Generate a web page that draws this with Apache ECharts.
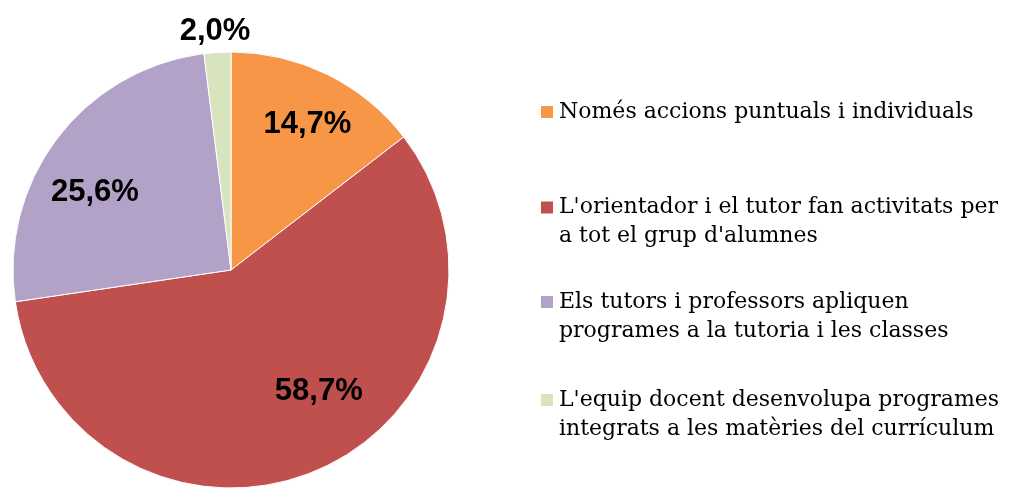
<!DOCTYPE html>
<html>
<head>
<meta charset="utf-8">
<script src="https://cdn.jsdelivr.net/npm/echarts@6/dist/echarts.min.js"></script>
<style>html,body{margin:0;padding:0;background:#fff}#c{width:1011px;height:488px}</style>
</head>
<body>
<div id="c"></div>
<script>
const categories = [
  "Només accions puntuals i individuals",
  "L'orientador i el tutor fan activitats per a tot el grup d'alumnes",
  "Els tutors i professors apliquen programes a la tutoria i les classes",
  "L'equip docent desenvolupa programes integrats a les matèries del currículum"
];
const legendLines = [
  ["Només accions puntuals i individuals"],
  ["L'orientador i el tutor fan activitats per", "a tot el grup d'alumnes"],
  ["Els tutors i professors apliquen", "programes a la tutoria i les classes"],
  ["L'equip docent desenvolupa programes", "integrats a les matèries del currículum"]
];
const values = [14.7, 58.7, 25.6, 2.0];
const colors = ["#F79646", "#C0504D", "#B3A2C7", "#D7E4BD"];

// label offsets from ECharts' default inside position (layout only)
const labelOffsets = [[27, -45], [44, 18], [-47, -10], [-9, -127]];
const iconCenters = [112, 207.5, 302, 400];
const LH = 29;

const chart = echarts.init(document.getElementById('c'), null, {renderer: 'canvas'});
const legends = categories.map((name, i) => {
  const lines = legendLines[i];
  // blank leading line keeps the first text line level with the icon
  const txt = lines.length > 1 ? ['\u00a0'].concat(lines).join('\n') : lines[0];
  const nLines = lines.length > 1 ? lines.length + 1 : 1;
  return {
    orient: 'vertical',
    left: 539,
    top: iconCenters[i] - nLines * LH / 2,
    itemWidth: 14,
    itemHeight: 14,
    itemGap: 0,
    icon: 'rect',
    selectedMode: false,
    padding: 0,
    data: [name],
    formatter: () => txt,
    textStyle: {
      fontFamily: 'DejaVu Serif',
      fontSize: 22,
      lineHeight: LH,
      color: '#000'
    }
  };
});

chart.setOption({
  animation: false,
  color: colors,
  legend: legends,
  series: [{
    type: 'pie',
    center: [231, 270],
    radius: 218,
    startAngle: 90,
    clockwise: true,
    avoidLabelOverlap: false,
    itemStyle: {borderColor: '#fff', borderWidth: 1},
    label: {
      show: true,
      position: 'inside',
      fontFamily: 'Liberation Sans, Arial, sans-serif',
      fontWeight: 'bold',
      fontSize: 31,
      color: '#000',
      formatter: p => p.value.toFixed(1).replace('.', ',') + '%'
    },
    labelLine: {show: false},
    labelLayout: p => ({dx: labelOffsets[p.dataIndex][0], dy: labelOffsets[p.dataIndex][1]}),
    emphasis: {disabled: true},
    data: categories.map((n, i) => ({name: n, value: values[i]}))
  }]
});
</script>
</body>
</html>
